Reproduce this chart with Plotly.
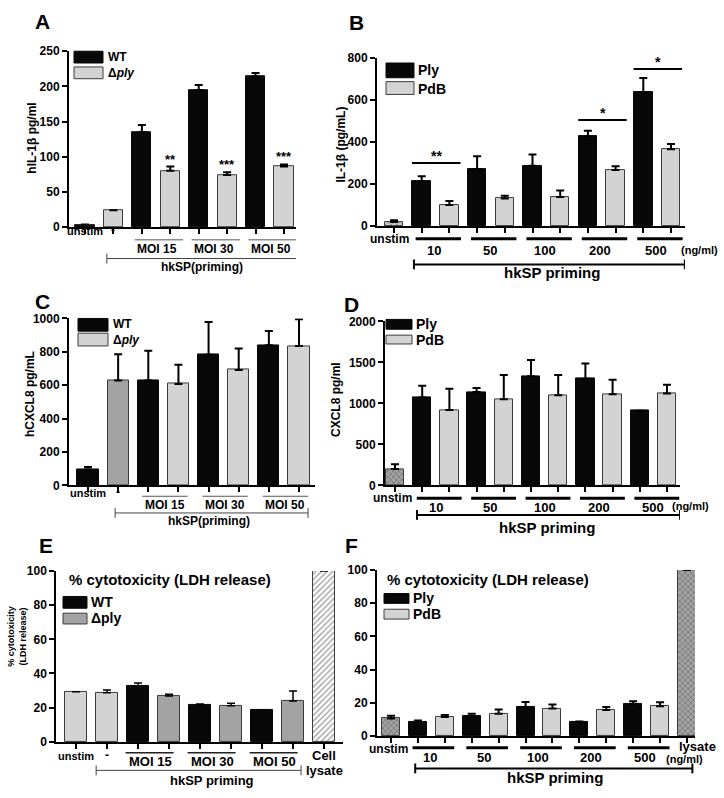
import plotly.graph_objects as go

W, H = 724, 798
FONT = "Liberation Sans, Arial, sans-serif"

BLACK = "#080808"
LIGHT = "#d3d3d3"
MID = "#a3a3a3"
EDGE = "#3c3c3c"

# ---------------- data ----------------
# A  hIL-1b, WT vs delta-ply, hkSP primed
a_cats = ["unstim", "-", "WT MOI 15", "Δply MOI 15", "WT MOI 30", "Δply MOI 30", "WT MOI 50", "Δply MOI 50"]
a_vals = [2, 24, 135, 80, 195, 74, 214, 86]
a_err = [1.5, None, 10, 6, 7, 4, 5, 3]
a_stars = ["", "", "", "**", "", "***", "", "***"]

# B  IL-1b, Ply vs PdB toxoid (ng/ml)
b_cats = ["unstim", "Ply 10", "PdB 10", "Ply 50", "PdB 50", "Ply 100", "PdB 100",
          "Ply 200", "PdB 200", "Ply 500", "PdB 500"]
b_vals = [20, 214, 101, 271, 131, 287, 139, 427, 267, 638, 366]
b_err = [8, 23, 19, 62, 13, 54, 31, 27, 18, 67, 25]
b_sig = [(1, 2, "**", 301), (7, 8, "*", 505), (9, 10, "*", 748)]

# C  hCXCL8, WT vs delta-ply
c_cats = a_cats
c_vals = [94, 628, 628, 608, 782, 692, 840, 835]
c_err = [16, 158, 178, 114, 196, 128, 85, 160]

# D  CXCL8, Ply vs PdB
d_cats = b_cats
d_vals = [200, 1072, 920, 1140, 1052, 1332, 1100, 1300, 1112, 912, 1120]
d_err = [60, 144, 260, 48, 296, 196, 248, 188, 176, None, 108]

# E  % cytotoxicity, WT vs delta-ply
e_cats = a_cats + ["Cell lysate"]
e_vals = [29.3, 28.7, 32.6, 26.8, 21.5, 21.1, 18.4, 23.9, 100]
e_err = [None, 1.6, 1.9, 1.0, 0.7, 1.5, None, 5.8, None]

# F  % cytotoxicity, Ply vs PdB
f_cats = b_cats + ["lysate"]
f_vals = [10.6, 8.7, 11.4, 11.8, 13.4, 17.3, 16.5, 8.7, 15.6, 19.3, 17.9, 100]
f_err = [1.6, 0.7, 1.2, 1.6, 2.5, 3.2, 2.4, None, 1.9, 1.6, 2.4, None]

moi_groups = ["MOI 15", "MOI 30", "MOI 50"]
moi_start = [2, 4, 6]
dose_groups = ["10", "50", "100", "200", "500"]
dose_start = [1, 3, 5, 7, 9]


def px_x(v):
    return v / W


def px_y(v):
    return 1 - v / H


fig = go.Figure()
shapes = []
notes = []


def bold(size):
    return dict(family=FONT, size=size, color="black", weight="bold")


def text(x, y, s, size=12, xref="paper", xanchor="center", **kw):
    xx = px_x(x) if xref == "paper" else x
    notes.append(dict(x=xx, y=px_y(y), xref=xref, yref="paper", text=s, showarrow=False,
                      xanchor=xanchor, yanchor="middle", font=bold(size), **kw))


def ytitle(x, y, s, size=12):
    notes.append(dict(x=px_x(x), y=px_y(y), xref="paper", yref="paper", text=s,
                      textangle=-90, showarrow=False, xanchor="center", yanchor="middle",
                      font=bold(size)))


def hline(x0, x1, y, xref="paper", width=1, color="black"):
    if xref == "paper":
        x0, x1 = px_x(x0), px_x(x1)
    shapes.append(dict(type="line", xref=xref, yref="paper", x0=x0, x1=x1,
                       y0=px_y(y), y1=px_y(y), line=dict(color=color, width=width)))


def bracket(x0, x1, y, xref, width, color):
    hline(x0, x1, y, xref, width, color)
    for x in (x0, x1):
        shapes.append(dict(type="line", xref=xref, yref="paper", x0=x, x1=x,
                           y0=px_y(y - 5), y1=px_y(y + 5), line=dict(color=color, width=width)))


def swatch(x0, x1, y0, y1, color):
    shapes.append(dict(type="rect", xref="paper", yref="paper", x0=px_x(x0), x1=px_x(x1),
                       y0=px_y(y1), y1=px_y(y0), fillcolor=color,
                       line=dict(color=EDGE if color != BLACK else BLACK, width=1)))


def panel(k, box, first, last, ymax, dtick, cats, vals, err, colors, patt=None,
          bw=0.67, ew=2, lw=2):
    n = len(cats)
    x0, x1, y0, y1 = box
    step = (last - first) / (n - 1)
    ax = "" if k == 1 else str(k)
    if patt is None:
        patt = [("", c, c) for c in colors]
    fig.add_trace(go.Bar(
        x=list(range(n)), y=vals, width=bw, customdata=cats,
        hovertemplate="%{customdata}: %{y}<extra></extra>",
        xaxis="x" + ax, yaxis="y" + ax, showlegend=False,
        marker=dict(color=colors,
                    line=dict(color=[BLACK if c == BLACK else EDGE for c in colors], width=1),
                    pattern=dict(shape=[p[0] for p in patt], fgcolor=[p[1] for p in patt],
                                 bgcolor=[p[2] for p in patt], size=4, solidity=0.35)),
        error_y=dict(type="data", symmetric=False, array=err, arrayminus=[0] * n,
                     color="black", thickness=ew, width=4),
    ))
    fig.layout["xaxis" + ax] = dict(
        domain=[px_x(x0), px_x(x1)], range=[(x0 - first) / step, (x1 - first) / step],
        anchor="y" + ax, showgrid=False, zeroline=False, showline=True, linecolor="black",
        linewidth=lw, ticks="outside", tickvals=list(range(n)), ticklen=5, tickwidth=lw,
        tickcolor="black", showticklabels=False, fixedrange=True)
    fig.layout["yaxis" + ax] = dict(
        domain=[px_y(y1), px_y(y0)], range=[0, ymax], dtick=dtick, anchor="x" + ax,
        showgrid=False, zeroline=False, showline=True, linecolor="black", linewidth=lw,
        ticks="outside", ticklen=5, tickwidth=lw, tickcolor="black",
        tickfont=bold(12), fixedrange=True)
    return "x" + ax, "y" + ax


# ---------------- A ----------------
xa, ya = panel(1, (69, 296, 45, 224), 85, 284, 250, 50, a_cats, a_vals, a_err,
               [BLACK, LIGHT, BLACK, LIGHT, BLACK, LIGHT, BLACK, LIGHT])
for i, s in enumerate(a_stars):
    if s:
        notes.append(dict(x=i, y=a_vals[i] + (a_err[i] or 0), xref=xa, yref=ya, text=s,
                          showarrow=False, xanchor="center", yanchor="bottom", yshift=-2,
                          font=bold(13)))
text(42, 15, "A", 21)
swatch(74, 103, 45, 57, BLACK)
swatch(74, 103, 61, 73, LIGHT)
text(106, 51, "WT", 12, xanchor="left")
text(106, 67, "Δ<i>ply</i>", 12, xanchor="left")
ytitle(32, 134, "hIL-1β pg/ml")
text(0, 228, "unstim", 11, xref=xa)
text(1, 227, "-", 12, xref=xa)
for g, s in zip(moi_start, moi_groups):
    hline(g - 0.25, g + 1.45, 237, xa, 1, "#555")
    text(g + 0.55, 246, s, 12, xref=xa)
bracket(0.77, 7.45, 256, xa, 1, "#444")
text(4.1, 265, "hkSP(priming)", 12, xref=xa)

# ---------------- B ----------------
xb, yb = panel(2, (377, 685, 52, 223), 394, 671, 800, 200, b_cats, b_vals, b_err,
               [LIGHT] + [BLACK, LIGHT] * 5,
               [("x", "#555", "#d8d8d8")] + [("", BLACK, BLACK), ("", LIGHT, LIGHT)] * 5)
for i, j, s, lev in b_sig:
    shapes.append(dict(type="line", xref=xb, yref=yb, x0=i - 0.35, x1=j + 0.4, y0=lev, y1=lev,
                       line=dict(color="black", width=2)))
    notes.append(dict(x=(i + j) / 2 + 0.03, y=lev, xref=xb, yref=yb, text=s, showarrow=False,
                      xanchor="center", yanchor="bottom", yshift=-3, font=bold(14)))
text(356, 16, "B", 21)
swatch(386, 414, 57, 72, BLACK)
swatch(386, 414, 76, 89, LIGHT)
text(416, 64, "Ply", 14, xanchor="left")
text(416, 83, "PdB", 14, xanchor="left")
ytitle(341, 140, "IL-1β (pg/mL)")
text(-0.15, 236, "unstim", 12, xref=xb)
for g, s in zip(dose_start, dose_groups):
    hline(g - 0.22, g + 1.42, 236, xb, 3, "black")
    text(g + 0.45, 248, s, 13, xref=xb)
text(699, 247, "(ng/ml)", 11)
bracket(0.72, 10.5, 262, xb, 2, "black")
text(5.7, 270, "hkSP priming", 15, xref=xb)

# ---------------- C ----------------
xc, yc = panel(3, (69, 315, 317, 487), 88, 299, 1000, 200, c_cats, c_vals, c_err,
               [BLACK, MID, BLACK, LIGHT, BLACK, LIGHT, BLACK, LIGHT], bw=0.7)
text(42, 300, "C", 21)
swatch(78, 108, 317, 330, BLACK)
swatch(78, 108, 332, 345, LIGHT)
text(111, 323, "WT", 12, xanchor="left")
text(111, 339, "Δ<i>ply</i>", 12, xanchor="left")
ytitle(30, 394, "hCXCL8 pg/mL")
text(0, 495, "unstim", 11, xref=xc)
text(1, 494, "-", 12, xref=xc)
for g, s in zip(moi_start, moi_groups):
    hline(g - 0.2, g + 1.3, 498, xc, 1, "#555")
    text(g + 0.55, 507, s, 12, xref=xc)
bracket(0.9, 7.3, 515, xc, 1, "#444")
text(4.0, 523, "hkSP(priming)", 12, xref=xc)

# ---------------- D ----------------
xd, yd = panel(4, (385, 680, 320, 487), 395, 667, 2000, 500, d_cats, d_vals, d_err,
               [MID] + [BLACK, LIGHT] * 5,
               [("x", "#2a2a2a", "#b8b8b8")] + [("", BLACK, BLACK), ("", LIGHT, LIGHT)] * 5)
text(351, 303, "D", 21)
swatch(386, 412, 318, 328, BLACK)
swatch(386, 412, 334, 343, LIGHT)
text(414, 323, "Ply", 14, xanchor="left")
text(414, 339, "PdB", 14, xanchor="left")
ytitle(336, 400, "CXCL8 pg/ml")
text(-0.1, 500, "unstim", 12, xref=xd)
for g, s in zip(dose_start, dose_groups):
    hline(g - 0.2, g + 1.45, 500, xd, 3, "black")
    text(g + 0.5, 509, s, 13, xref=xd)
text(690, 508, "(ng/ml)", 11)
bracket(0.81, 10.48, 517, xd, 2, "black")
text(5.6, 530, "hkSP priming", 15, xref=xd)

# ---------------- E ----------------
xe, ye = panel(5, (56, 343, 574, 748), 76, 324, 100, 20, e_cats, e_vals, e_err,
               [LIGHT, LIGHT, BLACK, MID, BLACK, MID, BLACK, MID, "white"],
               [("", LIGHT, LIGHT), ("", LIGHT, LIGHT), ("", BLACK, BLACK), ("", MID, MID),
                ("", BLACK, BLACK), ("", MID, MID), ("", BLACK, BLACK), ("", MID, MID),
                ("/", "#555", "white")], bw=0.7, ew=1.5, lw=1.5)
text(46, 548, "E", 21)
text(67, 583, "% cytotoxicity (LDH release)", 15, xanchor="left")
swatch(63, 87, 600, 612, BLACK)
swatch(63, 87, 617, 628, MID)
text(89, 606, "WT", 14, xanchor="left")
text(89, 622, "Δply", 14, xanchor="left")
ytitle(17, 641, "% cytotoxicity<br>(LDH release)", 9)
text(0, 762, "unstim", 11, xref=xe)
text(1, 761, "-", 12, xref=xe)
for g, s in zip(moi_start, moi_groups):
    hline(g - 0.4, g + 1.15, 759, xe, 1.5, "#222")
    text(g + 0.4, 768, s, 13, xref=xe)
text(8, 762, "Cell", 13, xref=xe)
text(8, 777, "lysate", 13, xref=xe)
bracket(0.65, 7.26, 777, xe, 1, "#444")
text(4.4, 787, "hkSP priming", 13, xref=xe)

# ---------------- F ----------------
xf, yf = panel(6, (377, 695, 573, 742), 391, 687, 100, 20, f_cats, f_vals, f_err,
               [MID] + [BLACK, LIGHT] * 5 + [MID],
               [("x", "#444", "#c4c4c4")] + [("", BLACK, BLACK), ("", LIGHT, LIGHT)] * 5
               + [("x", "#444", "#c4c4c4")], ew=2, lw=2)
text(351, 548, "F", 21)
text(385, 583, "% cytotoxicity (LDH release)", 15, xanchor="left")
swatch(384, 409, 597, 607, BLACK)
swatch(384, 409, 613, 623, LIGHT)
text(411, 602, "Ply", 14, xanchor="left")
text(411, 618, "PdB", 14, xanchor="left")
text(-0.1, 755, "unstim", 12, xref=xf)
for g, s in zip(dose_start, dose_groups):
    hline(g - 0.2, g + 1.35, 754, xf, 3, "black")
    text(g + 0.45, 764, s, 13, xref=xf)
text(697, 753, "lysate", 13)
text(684, 765, "(ng/ml)", 11)
bracket(0.9, 11.2, 775, xf, 2, "black")
text(6.1, 784, "hkSP priming", 15, xref=xf)

fig.update_layout(
    width=W, height=H, margin=dict(l=0, r=0, t=0, b=0),
    paper_bgcolor="white", plot_bgcolor="white", showlegend=False,
    barmode="overlay", bargap=0,
    font=dict(family=FONT, size=12, color="black"),
    shapes=shapes, annotations=notes,
)

# the page body has a default 8px margin; drop it so the figure fills the window
fig.write_html("out.html", config={"displayModeBar": False},
               post_script="document.body.style.margin='0';")
